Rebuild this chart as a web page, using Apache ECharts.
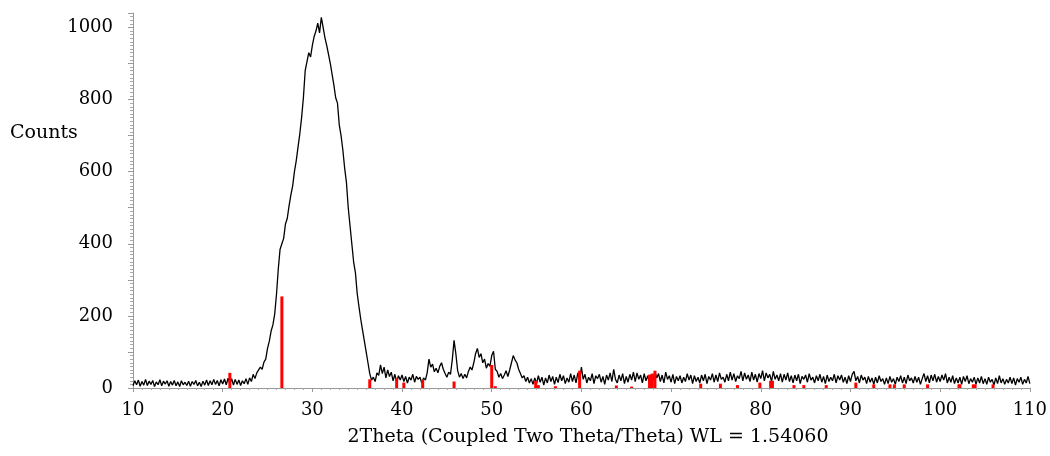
<!DOCTYPE html>
<html>
<head>
<meta charset="utf-8">
<script src="https://cdn.jsdelivr.net/npm/echarts@6/dist/echarts.min.js"></script>
<style>
  html, body { margin: 0; padding: 0; background: #fff; }
  #main { width: 1050px; height: 456px; }
</style>
</head>
<body>
<div id="main"></div>
<script>
// scan start / step (deg 2theta)
const scanStart = 10
const scanStep = 0.2

const counts = [
  6, 20, 9, 22, 5,      18, 8, 24, 7, 19,     10, 21, 4, 17, 9,     23, 6, 19, 11, 20,   // 10-13
  5, 18, 8, 21, 6,      17, 4, 20, 9, 16,     7, 19, 5, 18, 10,     21, 6, 16, 4, 19,    // 14-17
  8, 22, 7, 20, 9,      24, 10, 21, 6, 23,    11, 25, 9, 27, 12,    26, 8, 24, 10, 22,   // 18-21
  7, 20, 12, 26, 10,    28, 18, 38, 26, 42,   40, 58, 52, 72, 80,   110, 130, 158, 175, 205, // 22-25
  260, 330, 385, 400, 415,  455, 470, 505, 535, 560,  600, 630, 668, 705, 750,  805, 880, 905, 930, 918, // 26-29
  950, 975, 990, 1012, 985,  1028, 1000, 972, 950, 925,  900, 870, 840, 805, 790,  730, 700, 660, 610, 570, // 30-33
  500, 450, 400, 350, 320,  262, 225, 190, 160, 130,  100, 70, 40, 22, 30,  18, 42, 35, 64, 40, // 34-37
  58, 28, 50, 32, 44,   20, 38, 16, 34, 22,   36, 18, 32, 14, 30,   22, 38, 16, 32, 24,  // 38-41
  30, 14, 28, 22, 42,   80, 58, 66, 45, 55,   42, 60, 70, 52, 40,   30, 44, 38, 78, 132, // 42-45
  95, 48, 30, 40, 26,   38, 28, 46, 58, 50,   70, 95, 110, 85, 95,  70, 80, 55, 68, 60,  // 46-49
  90, 102, 52, 46, 30,  40, 26, 36, 48, 32,   50, 70, 90, 78, 70,   52, 40, 28, 34, 18,  // 50-53
  30, 14, 26, 10, 28,   12, 34, 16, 30, 8,    28, 14, 36, 18, 32,   10, 30, 15, 38, 20,  // 54-57
  34, 12, 28, 16, 40,   18, 36, 14, 42, 20,   58, 24, 38, 14, 30,   20, 40, 12, 34, 26,  // 58-61
  38, 16, 32, 10, 36,   22, 42, 18, 52, 24,   14, 36, 20, 40, 12,   32, 16, 38, 22, 44,  // 62-65
  18, 42, 24, 36, 14,   40, 20, 34, 12, 38,   22, 46, 28, 40, 18,   36, 14, 44, 24, 34,  // 66-69
  16, 38, 12, 32, 20,   34, 14, 30, 18, 40,   22, 36, 12, 34, 18,   30, 14, 36, 20, 38,  // 70-73
  12, 32, 22, 40, 16,   36, 18, 42, 24, 30,   16, 38, 20, 44, 22,   40, 18, 34, 26, 46,  // 74-77
  20, 42, 24, 36, 18,   44, 22, 38, 16, 40,   26, 48, 20, 42, 28,   38, 18, 46, 24, 36,  // 78-81
  20, 40, 16, 38, 22,   42, 18, 34, 14, 36,   20, 38, 12, 32, 24,   36, 16, 40, 22, 30,  // 82-85
  14, 34, 20, 38, 16,   32, 12, 36, 18, 30,   20, 38, 14, 34, 22,   36, 16, 30, 12, 34,  // 86-89
  18, 38, 46, 20, 32,   14, 36, 22, 30, 12,   32, 16, 28, 10, 30,   14, 34, 18, 26, 10,  // 90-93
  28, 12, 32, 16, 26,   10, 30, 18, 34, 14,   30, 12, 36, 20, 28,   14, 32, 16, 30, 10,  // 94-97
  26, 40, 18, 34, 14,   36, 20, 38, 16, 32,   18, 36, 22, 40, 14,   30, 16, 34, 12, 28,  // 98-101
  14, 30, 10, 32, 18,   34, 12, 26, 16, 30,   10, 28, 14, 32, 12,   26, 10, 30, 16, 24,  // 102-105
  8, 28, 12, 34, 14,    26, 10, 24, 14, 30,   12, 28, 8, 26, 16,    30, 10, 24, 14, 32,  // 106-109
  12                                                                                    // 110
]

// reference pattern sticks
const refPos = [20.8, 26.6, 36.4, 39.4, 40.2, 42.3, 45.8, 50.0, 50.4, 54.9, 55.2, 57.1,
  59.8, 63.9, 65.6, 67.6, 67.9, 68.2, 73.3, 75.5, 77.4, 79.9, 81.1, 81.3,
  83.7, 84.8, 87.3, 90.6, 92.6, 94.4, 94.9, 96.0, 98.6, 102.1, 102.2, 103.7, 103.9, 105.9]
const refInt = [42, 254, 24, 27, 15, 22, 18, 64, 5, 20, 8, 5,
  48, 7, 4, 37, 40, 48, 12, 12, 8, 15, 20, 20,
  8, 8, 8, 15, 10, 10, 10, 10, 10, 10, 10, 10, 10, 10]

const xTicks = [10, 20, 30, 40, 50, 60, 70, 80, 90, 100, 110]
const yTicks = [0, 200, 400, 600, 800, 1000]

let scan = counts.map((c, i) => [+(scanStart + i * scanStep).toFixed(2), c])
let sticks = refPos.map((p, i) => [p, refInt[i]])

const font = 'DejaVu Serif'
const chart = echarts.init(document.getElementById('main'))

chart.setOption({
  animation: false,
  grid: { left: 133, right: 17, top: 13, bottom: 68 },
  xAxis: {
    type: 'value',
    min: 10,
    max: 110,
    interval: 10,
    axisLine: { lineStyle: { color: '#999', width: 1 } },
    axisTick: { length: 4, lineStyle: { color: '#999' } },
    minorTick: { show: true, splitNumber: 10, length: 2, lineStyle: { color: '#aaa' } },
    splitLine: { show: false },
    axisLabel: {
      color: '#000', fontFamily: font, fontSize: 18, margin: 13,
      formatter: v => xTicks.includes(v) ? String(v) : ''
    }
  },
  yAxis: {
    type: 'value',
    min: 0,
    max: 1040,
    interval: 100,
    axisLine: { show: true, lineStyle: { color: '#999', width: 1 } },
    axisTick: { show: true, length: 5, lineStyle: { color: '#999' } },
    minorTick: { show: true, splitNumber: 10, length: 3, lineStyle: { color: '#aaa' } },
    splitLine: { show: false },
    axisLabel: {
      color: '#000', fontFamily: font, fontSize: 18, margin: 20,
      formatter: v => yTicks.includes(v) ? String(v) : ''
    }
  },
  graphic: [
    { type: 'text', left: 10, top: 124, style: { text: 'Counts', fill: '#000', font: '19px "DejaVu Serif"' } },
    { type: 'text', x: 588, y: 437, style: { text: '2Theta (Coupled Two Theta/Theta) WL = 1.54060', fill: '#000', font: '19px "DejaVu Serif"', align: 'center', verticalAlign: 'middle' } }
  ],
  series: [
    {
      type: 'line',
      data: scan,
      showSymbol: false,
      symbol: 'none',
      sampling: null,
      lineStyle: { color: '#000', width: 1.3 },
      z: 2
    },
    {
      type: 'bar',
      data: sticks,
      barWidth: 3,
      itemStyle: { color: '#ff0000' },
      z: 3
    }
  ]
})
</script>
</body>
</html>
